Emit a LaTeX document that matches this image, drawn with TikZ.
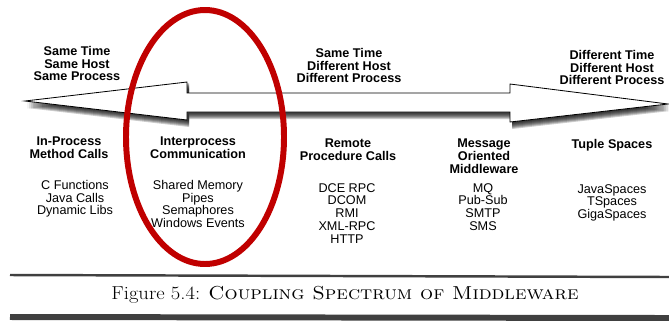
\documentclass[tikz,border=0pt]{standalone}
\usepackage{fontspec}
\setsansfont{Liberation Sans}
\usetikzlibrary{positioning}
\definecolor{cMark}{RGB}{192,0,0}
\tikzset{
	spanlbl/.style ={font=\sffamily\bfseries\fontsize{10.8}{10.9}\selectfont, align=center, anchor=north, inner sep=0pt},
	colhead/.style ={spanlbl},
	colitem/.style ={font=\sffamily\fontsize{10.8}{10.9}\selectfont, align=center, anchor=north, inner sep=0pt},
	spanarrow/.style={draw=black, fill=white, line width=0.7pt, line join=miter},
	rulethin/.style ={line width=2.1pt, black!75},
	rulethick/.style={line width=5.1pt, black!75},
}

\begin{document}
\begin{tikzpicture}[x=0.03cm, y=-0.03cm]
	\useasboundingbox (0,0) rectangle (669,322);
	% double headed arrow with a soft shadow
	\foreach \dy in {1,...,7}
		\fill[black, opacity=0.2, shift={(2,\dy)}] (25,101) -- (187,82) -- (187,93) -- (510,93) -- (510,84) -- (668,104) -- (510,122) -- (510,112) -- (187,112) -- (187,120) -- cycle;
	\draw[spanarrow] (25,101) -- (187,82) -- (187,93) -- (510,93) -- (510,84) -- (668,104) -- (510,122) -- (510,112) -- (187,112) -- (187,120) -- cycle;
	% labels above the arrow
	\node[spanlbl] (same) at (77,46) {Same Time\\ Same Host\\ Same Process};
	\node[spanlbl] (host) at (349,48) {Same Time\\ Different Host\\ Different Process};
	\node[spanlbl] (diff) at (612,50) {Different Time\\ Different Host\\ Different Process};
	% columns below the arrow
	\node[colhead] (inproc) at (69,137) {In-Process\\ Method Calls};
	\node[colhead] (ipc) at (198,137) {Interprocess\\ Communication};
	\node[colhead] (rpc) at (348,139) {Remote\\ Procedure Calls};
	\node[colhead] (mom) at (484,139) {Message\\ Oriented\\ Middleware};
	\node[colhead] (tuple) at (612,139) {Tuple Spaces};
	\node[colitem] (inprocEx) at (75,180) {C Functions\\ Java Calls\\ Dynamic Libs};
	\node[colitem] (ipcEx) at (198,180) {Shared Memory\\ Pipes\\ Semaphores\\ Windows Events};
	\node[colitem] (rpcEx) at (347,183) {DCE RPC\\ DCOM\\ RMI\\ XML-RPC\\ HTTP};
	\node[colitem] (momEx) at (483,183) {MQ\\ Pub-Sub\\ SMTP\\ SMS};
	\node[colitem] (tupleEx) at (612,184) {JavaSpaces\\ TSpaces\\ GigaSpaces};
	% red mark round the interprocess column
	\draw[cMark, line width=5.1pt] (205,137) ellipse [x radius=79, y radius=127];
	% caption between rules
	\draw[rulethin] (10,275) -- (669,277);
	\node[anchor=base, inner sep=0pt] (cap) at (345,299.5) {\scalebox{1.1}[1]{\fontsize{16}{16}\selectfont Figure 5.4: \textsc{Coupling Spectrum of Middleware}}};
	\draw[rulethick] (10,317) -- (669,318);
\end{tikzpicture}
\end{document}
